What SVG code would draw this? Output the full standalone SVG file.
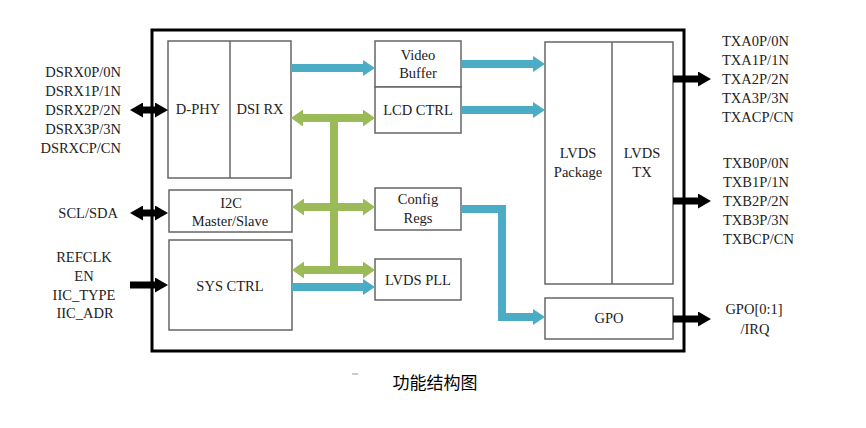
<svg xmlns="http://www.w3.org/2000/svg" width="866" height="428" viewBox="0 0 866 428">
<style>
.box{fill:#fff;stroke:#666;stroke-width:1.5}
.div{stroke:#666;stroke-width:1.5}
.t{font-family:"Liberation Serif","DejaVu Serif",serif;font-size:14.5px;fill:#222;text-anchor:middle}
.l{font-family:"Liberation Serif","DejaVu Serif",serif;font-size:14.5px;fill:#222}
.r{font-family:"Liberation Serif","DejaVu Serif",serif;font-size:14.5px;fill:#222;text-anchor:end}
.blue{fill:none;stroke:#4BACC6;stroke-width:8;stroke-linejoin:miter}
.green{fill:none;stroke:#9BBB59;stroke-width:8}
.black{fill:none;stroke:#000;stroke-width:7}
</style>
<defs>
<marker id="hb" markerUnits="userSpaceOnUse" markerWidth="12" markerHeight="16" refX="2" refY="8" orient="auto"><path d="M0,0 L12,8 L0,16 z" fill="#4BACC6"/></marker>
<marker id="hg" markerUnits="userSpaceOnUse" markerWidth="12" markerHeight="17" refX="2" refY="8.5" orient="auto-start-reverse"><path d="M0,0 L12,8.5 L0,17 z" fill="#9BBB59"/></marker>
<marker id="hk" markerUnits="userSpaceOnUse" markerWidth="13" markerHeight="15" refX="2" refY="7.5" orient="auto-start-reverse"><path d="M0,0 L13,7.5 L0,15 z" fill="#000"/></marker>
</defs>
<rect width="866" height="428" fill="#fff"/>
<rect x="152" y="30" width="532" height="321" fill="none" stroke="#000" stroke-width="3"/>
<g id="dphy_dsirx">
<rect class="box" x="168" y="41" width="123" height="137"/>
<line class="div" x1="230" y1="41" x2="230" y2="178"/>
<text class="t" x="198" y="114">D-PHY</text>
<text class="t" x="260" y="114">DSI RX</text>
</g>
<g id="i2c">
<rect class="box" x="169" y="190" width="123" height="42"/>
<text class="t" x="231" y="208">I2C</text>
<text class="t" x="230" y="226">Master/Slave</text>
</g>
<g id="sysctrl">
<rect class="box" x="169" y="240" width="123" height="90"/>
<text class="t" x="230" y="291">SYS CTRL</text>
</g>
<g id="videobuffer">
<rect class="box" x="375" y="41" width="86" height="46"/>
<text class="t" x="418" y="60">Video</text>
<text class="t" x="418" y="78">Buffer</text>
</g>
<g id="lcdctrl">
<rect class="box" x="375" y="87" width="86" height="46"/>
<text class="t" x="418" y="115">LCD CTRL</text>
</g>
<g id="configregs">
<rect class="box" x="375" y="188" width="86" height="42"/>
<text class="t" x="418" y="204">Config</text>
<text class="t" x="418" y="223">Regs</text>
</g>
<g id="lvdspll">
<rect class="box" x="375" y="259" width="86" height="41"/>
<text class="t" x="418" y="285">LVDS PLL</text>
</g>
<g id="lvds">
<rect class="box" x="545" y="42" width="128" height="242"/>
<line class="div" x1="612" y1="42" x2="612" y2="284"/>
<text class="t" x="578" y="158">LVDS</text>
<text class="t" x="578" y="177">Package</text>
<text class="t" x="642" y="158">LVDS</text>
<text class="t" x="642" y="177">TX</text>
</g>
<g id="gpo">
<rect class="box" x="545" y="298" width="128" height="41"/>
<text class="t" x="609" y="323">GPO</text>
</g>
<g id="connectors">
<line class="blue" x1="291" y1="68" x2="365" y2="68" marker-end="url(#hb)"/>
<line class="blue" x1="461" y1="64" x2="535" y2="64" marker-end="url(#hb)"/>
<line class="blue" x1="461" y1="110" x2="535" y2="110" marker-end="url(#hb)"/>
<line class="blue" x1="292" y1="287" x2="365" y2="287" marker-end="url(#hb)"/>
<polyline class="blue" points="461,209 502,209 502,317 535,317" marker-end="url(#hb)"/>
<line class="green" x1="334" y1="118" x2="334" y2="270"/>
<line class="green" x1="301" y1="118" x2="365" y2="118" marker-start="url(#hg)" marker-end="url(#hg)"/>
<line class="green" x1="302" y1="207" x2="365" y2="207" marker-start="url(#hg)" marker-end="url(#hg)"/>
<line class="green" x1="302" y1="270" x2="365" y2="270" marker-start="url(#hg)" marker-end="url(#hg)"/>
<line class="black" x1="141" y1="110" x2="157" y2="110" marker-start="url(#hk)" marker-end="url(#hk)"/>
<line class="black" x1="141" y1="213" x2="157" y2="213" marker-start="url(#hk)" marker-end="url(#hk)"/>
<line class="black" x1="130" y1="285" x2="157" y2="285" marker-end="url(#hk)"/>
<line class="black" x1="673" y1="79" x2="700" y2="79" marker-end="url(#hk)"/>
<line class="black" x1="673" y1="201" x2="700" y2="201" marker-end="url(#hk)"/>
<line class="black" x1="673" y1="319" x2="700" y2="319" marker-end="url(#hk)"/>
</g>
<g id="labels-left">
<text class="r" x="121" y="77">DSRX0P/0N</text>
<text class="r" x="121" y="96">DSRX1P/1N</text>
<text class="r" x="121" y="115">DSRX2P/2N</text>
<text class="r" x="121" y="134">DSRX3P/3N</text>
<text class="r" x="121" y="153">DSRXCP/CN</text>
<text class="r" x="118" y="218">SCL/SDA</text>
<text class="t" x="84" y="262">REFCLK</text>
<text class="t" x="84" y="281">EN</text>
<text class="t" x="84" y="300">IIC_TYPE</text>
<text class="t" x="85" y="318">IIC_ADR</text>
</g>
<g id="labels-right">
<text class="l" x="722" y="46">TXA0P/0N</text>
<text class="l" x="722" y="65">TXA1P/1N</text>
<text class="l" x="722" y="84">TXA2P/2N</text>
<text class="l" x="722" y="103">TXA3P/3N</text>
<text class="l" x="722" y="122">TXACP/CN</text>
<text class="l" x="723" y="168">TXB0P/0N</text>
<text class="l" x="723" y="187">TXB1P/1N</text>
<text class="l" x="723" y="206">TXB2P/2N</text>
<text class="l" x="723" y="225">TXB3P/3N</text>
<text class="l" x="723" y="244">TXBCP/CN</text>
<text class="t" x="754" y="314">GPO[0:1]</text>
<text class="t" x="755" y="334">/IRQ</text>
</g>
<line x1="352" y1="374" x2="358" y2="374" stroke="#999" stroke-width="1"/>
<text x="435" y="389" style="font-family:'Noto Sans CJK SC',sans-serif;font-size:17px;fill:#000;text-anchor:middle">功能结构图</text>
</svg>
